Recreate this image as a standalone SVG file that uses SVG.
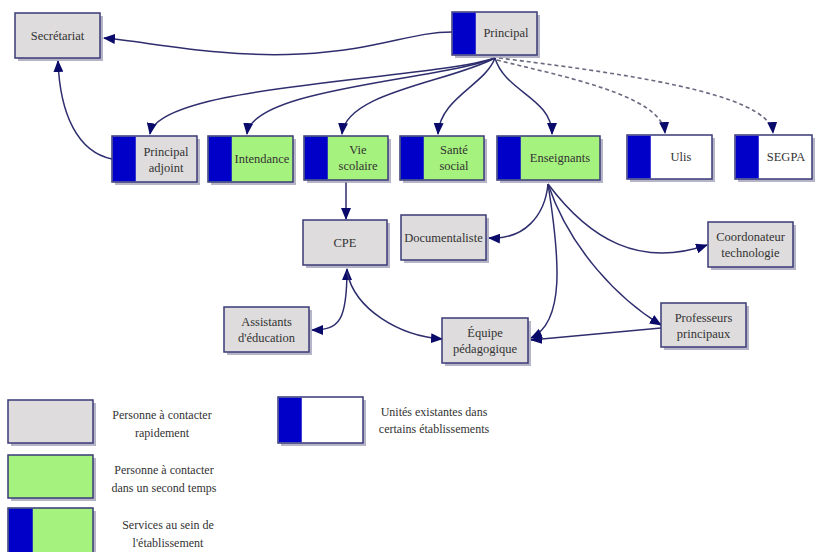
<svg xmlns="http://www.w3.org/2000/svg" width="818" height="552" viewBox="0 0 818 552" font-family="Liberation Serif, DejaVu Serif, serif">
<defs>
<style>
.sh{fill:#9c9cb4;opacity:0.75}
.box{stroke:#3a3a78;stroke-width:1.5}
.g{fill:#dedcdc}
.v{fill:#a6f27e}
.w{fill:#ffffff}
.b{fill:#0000c8}
text{fill:#333;text-anchor:middle}
.t{font-size:12.5px}
.lt{font-size:12px}
.e{fill:none;stroke:#2e2e6e;stroke-width:1.5}
.d{fill:none;stroke:#6a6a80;stroke-width:1.6;stroke-dasharray:4,3}
</style>
<marker id="a" markerWidth="12" markerHeight="10" refX="11" refY="5" orient="auto-start-reverse" markerUnits="userSpaceOnUse">
<path d="M0,0 L12,5 L0,10 z" fill="#0a0a6a"/>
</marker>
</defs>

<g id="connectors">
<path class="e" d="M452,32 C410,32 380,50 300,54 C220,58 150,42 104,38" marker-end="url(#a)"/>
<path class="e" d="M112,159 C78,152 60,115 58,61" marker-end="url(#a)"/>
<path class="e" d="M495,58 C430,80 158,84 150,134" marker-end="url(#a)"/>
<path class="e" d="M495,58 C440,80 252,88 247,134" marker-end="url(#a)"/>
<path class="e" d="M495,58 C450,82 346,92 342,134" marker-end="url(#a)"/>
<path class="e" d="M495,58 C485,85 440,98 438,134" marker-end="url(#a)"/>
<path class="e" d="M495,58 C505,92 552,98 552,134" marker-end="url(#a)"/>
<path class="d" d="M497,60 C560,76 662,95 665,133" marker-end="url(#a)"/>
<path class="d" d="M499,58 C610,72 770,92 773,133" marker-end="url(#a)"/>
<path class="e" d="M346,182 C346,195 346,205 346,219" marker-end="url(#a)"/>
<path class="e" d="M312,330 C340,330 347,320 347,269" marker-end="url(#a)" marker-start="url(#a)"/>
<path class="e" d="M347,272 C355,310 400,336 442,339" marker-end="url(#a)"/>
<path class="e" d="M548,184 C545,215 525,240 489,238" marker-end="url(#a)"/>
<path class="e" d="M548,184 C560,260 565,322 531,338" marker-end="url(#a)"/>
<path class="e" d="M548,184 C570,250 620,300 661,325" marker-end="url(#a)"/>
<path class="e" d="M548,184 C590,240 640,268 707,245" marker-end="url(#a)"/>
<path class="e" d="M661,328 L531,340" marker-end="url(#a)"/>
</g>

<g id="secretariat">
<rect class="sh" x="18" y="16" width="85" height="45"/>
<rect class="box g" x="15" y="13" width="85" height="45"/>
<text class="t" x="57.5" y="39.5">Secrétariat</text>
</g>

<g id="principal">
<rect class="sh" x="455" y="15" width="85" height="43"/>
<rect class="box g" x="452" y="12" width="85" height="43"/>
<rect class="b" x="452.75" y="12.75" width="23" height="41.5"/>
<text class="t" x="506" y="37">Principal</text>
</g>

<g id="principal-adjoint">
<rect class="sh" x="115" y="139" width="85" height="46"/>
<rect class="box g" x="112" y="136" width="85" height="46"/>
<rect class="b" x="112.75" y="136.75" width="23" height="44.5"/>
<text class="t" x="166" y="156">Principal</text>
<text class="t" x="166" y="172">adjoint</text>
</g>

<g id="intendance">
<rect class="sh" x="211" y="139" width="85" height="46"/>
<rect class="box v" x="208" y="136" width="85" height="46"/>
<rect class="b" x="208.75" y="136.75" width="23" height="44.5"/>
<text class="t" x="262" y="163">Intendance</text>
</g>

<g id="vie-scolaire">
<rect class="sh" x="307" y="139" width="84" height="44"/>
<rect class="box v" x="304" y="136" width="84" height="44"/>
<rect class="b" x="304.75" y="136.75" width="23" height="42.5"/>
<text class="t" x="358" y="154">Vie</text>
<text class="t" x="358" y="170">scolaire</text>
</g>

<g id="sante-social">
<rect class="sh" x="403" y="139" width="84" height="44"/>
<rect class="box v" x="400" y="136" width="84" height="44"/>
<rect class="b" x="400.75" y="136.75" width="23" height="42.5"/>
<text class="t" x="454" y="154">Santé</text>
<text class="t" x="454" y="170">social</text>
</g>

<g id="enseignants">
<rect class="sh" x="500" y="139" width="103" height="44"/>
<rect class="box v" x="497" y="136" width="103" height="44"/>
<rect class="b" x="497.75" y="136.75" width="23" height="42.5"/>
<text class="t" x="560" y="162">Enseignants</text>
</g>

<g id="ulis">
<rect class="sh" x="630" y="138" width="85" height="44"/>
<rect class="box w" x="627" y="135" width="85" height="44"/>
<rect class="b" x="627.75" y="135.75" width="23" height="42.5"/>
<text class="t" x="681" y="161">Ulis</text>
</g>

<g id="segpa">
<rect class="sh" x="738" y="138" width="77" height="44"/>
<rect class="box w" x="735" y="135" width="77" height="44"/>
<rect class="b" x="735.75" y="135.75" width="23" height="42.5"/>
<text class="t" x="786" y="161">SEGPA</text>
</g>

<g id="cpe">
<rect class="sh" x="306" y="223" width="84" height="45"/>
<rect class="box g" x="303" y="220" width="84" height="45"/>
<text class="t" x="345" y="247">CPE</text>
</g>

<g id="documentaliste">
<rect class="sh" x="404" y="218" width="85" height="45"/>
<rect class="box g" x="401" y="215" width="85" height="45"/>
<text class="t" x="443.5" y="242">Documentaliste</text>
</g>

<g id="assistants">
<rect class="sh" x="227" y="310" width="85" height="45"/>
<rect class="box g" x="224" y="307" width="85" height="45"/>
<text class="t" x="266.5" y="326">Assistants</text>
<text class="t" x="266.5" y="342">d'éducation</text>
</g>

<g id="equipe">
<rect class="sh" x="445" y="321" width="86" height="45"/>
<rect class="box g" x="442" y="318" width="86" height="45"/>
<text class="t" x="485" y="337">Équipe</text>
<text class="t" x="485" y="353">pédagogique</text>
</g>

<g id="coordonateur">
<rect class="sh" x="711" y="225" width="85" height="45"/>
<rect class="box g" x="708" y="222" width="85" height="45"/>
<text class="t" x="750.5" y="241">Coordonateur</text>
<text class="t" x="750.5" y="257">technologie</text>
</g>

<g id="professeurs">
<rect class="sh" x="664" y="306" width="85" height="44"/>
<rect class="box g" x="661" y="303" width="85" height="44"/>
<text class="t" x="703.5" y="322">Professeurs</text>
<text class="t" x="703.5" y="338">principaux</text>
</g>

<g id="legend">
<rect class="sh" x="11" y="403" width="85" height="43"/>
<rect class="box g" x="8" y="400" width="85" height="43"/>
<text class="lt" x="162" y="419">Personne à contacter</text>
<text class="lt" x="162" y="437">rapidement</text>

<rect class="sh" x="11" y="458" width="85" height="43"/>
<rect class="box v" x="8" y="455" width="85" height="43"/>
<text class="lt" x="164" y="474">Personne à contacter</text>
<text class="lt" x="164" y="492">dans un second temps</text>

<rect class="sh" x="11" y="511" width="85" height="45"/>
<rect class="box v" x="8" y="508" width="85" height="48"/>
<rect class="b" x="8.75" y="508.75" width="24" height="46"/>
<text class="lt" x="168" y="529">Services au sein de</text>
<text class="lt" x="168" y="547">l'établissement</text>

<rect class="sh" x="281" y="400" width="85" height="46"/>
<rect class="box w" x="278" y="397" width="85" height="46"/>
<rect class="b" x="278.75" y="397.75" width="23" height="44.5"/>
<text class="lt" x="434" y="416">Unités existantes dans</text>
<text class="lt" x="434" y="433">certains établissements</text>
</g>
</svg>
